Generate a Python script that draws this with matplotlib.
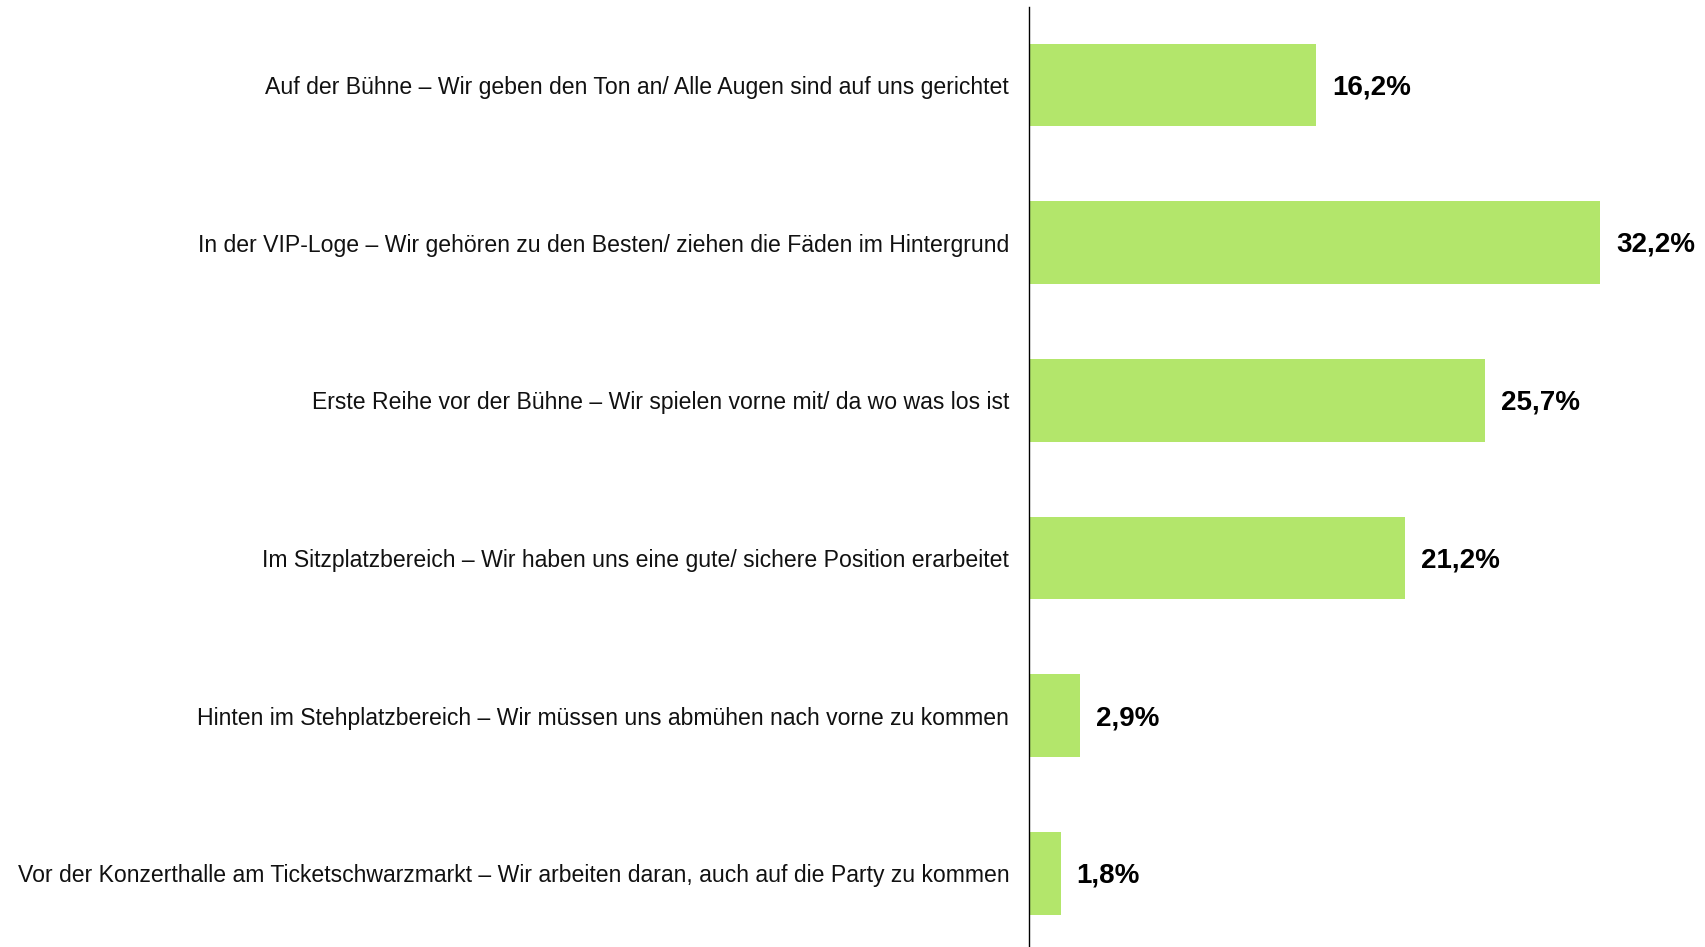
import numpy as np
import matplotlib
matplotlib.use("Agg")
import matplotlib.pyplot as plt

# answer categories (top to bottom) and shares in percent
labels = [
    "Auf der Bühne – Wir geben den Ton an/ Alle Augen sind auf uns gerichtet",
    "In der VIP-Loge – Wir gehören zu den Besten/ ziehen die Fäden im Hintergrund",
    "Erste Reihe vor der Bühne – Wir spielen vorne mit/ da wo was los ist",
    "Im Sitzplatzbereich – Wir haben uns eine gute/ sichere Position erarbeitet",
    "Hinten im Stehplatzbereich – Wir müssen uns abmühen nach vorne zu kommen",
    "Vor der Konzerthalle am Ticketschwarzmarkt – Wir arbeiten daran, auch auf die Party zu kommen",
]
values = [16.2, 32.2, 25.7, 21.2, 2.9, 1.8]
value_text = ["16,2%", "32,2%", "25,7%", "21,2%", "2,9%", "1,8%"]

plt.rcParams['font.family'] = ['Liberation Sans', 'DejaVu Sans']

fig = plt.figure(figsize=(17.05, 9.47), dpi=100)
ax = fig.add_axes([0.6033, 0.0, 0.3967, 0.9931])

y = np.arange(len(values))
ax.barh(y, values, height=0.524, color='#b3e66b')

for yi, v, t in zip(y, values, value_text):
    ax.text(v + 0.9, yi + 0.015, t, va='center', ha='left', fontsize=20,
            fontweight='bold', color='black')

ax.set_xlim(0, 38.1)
ax.set_ylim(5.467, -0.4965)
ax.set_yticks(y)
ax.set_yticklabels(labels, fontsize=16.6, color='#111111')
ax.tick_params(axis='y', length=0, pad=14)
ax.set_xticks([])
for s in ['top', 'right', 'bottom']:
    ax.spines[s].set_visible(False)
ax.spines['left'].set_linewidth(1.0)
ax.spines['left'].set_color('black')

fig.savefig("out.png", dpi=100)
